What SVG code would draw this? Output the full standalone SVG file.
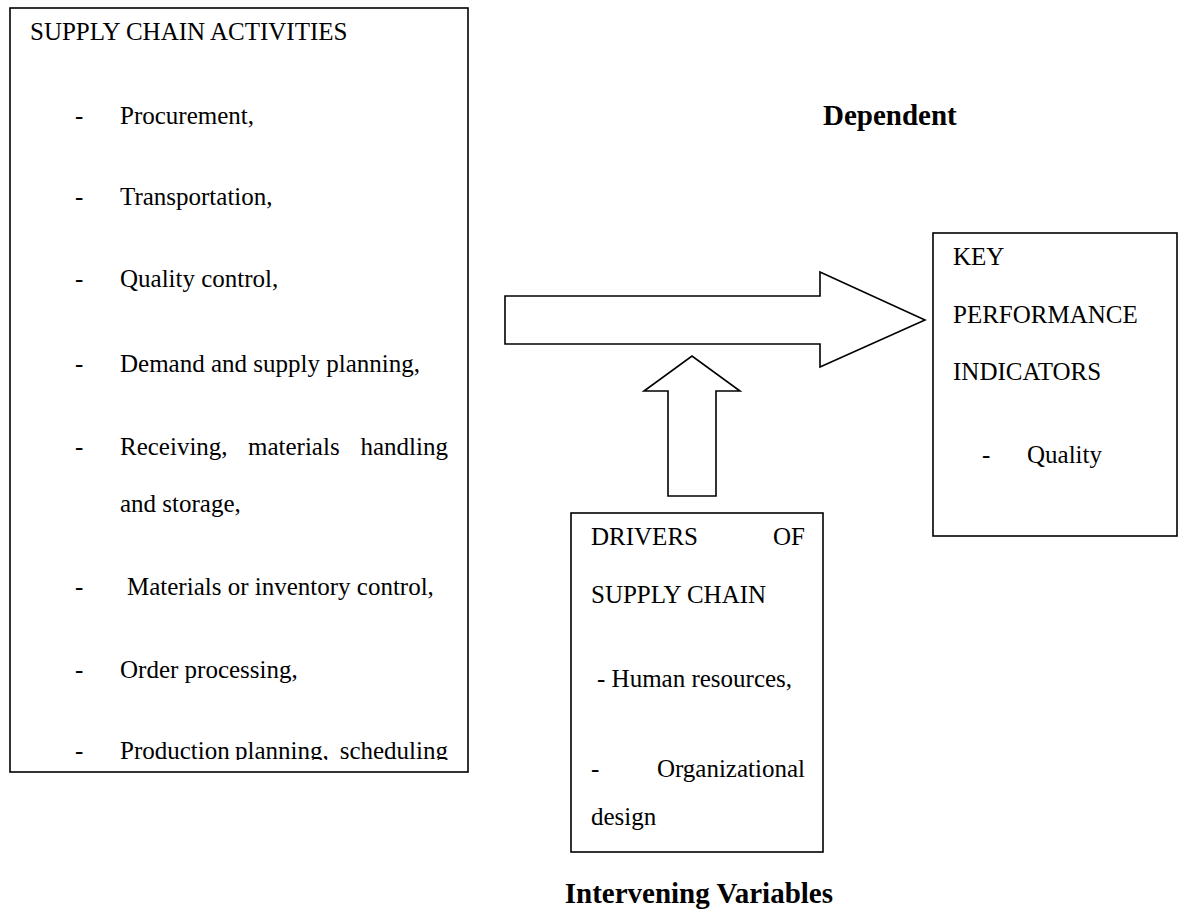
<svg xmlns="http://www.w3.org/2000/svg" width="1181" height="911" viewBox="0 0 1181 911">
<style>
.box{fill:#fff;stroke:#000;stroke-width:1.6}
.arr{fill:#fff;stroke:#000;stroke-width:1.6;stroke-linejoin:miter}
text{font-family:"Liberation Serif","Times New Roman",serif;font-size:25px;fill:#000}
.b{font-weight:bold;font-size:29px}
</style>
<defs>
<clipPath id="clipL"><rect x="10" y="8" width="458" height="752"/></clipPath>
</defs>
<rect width="1181" height="911" fill="#fff"/>
<g id="connectors">
<path class="arr" d="M505,296 L820,296 L820,272 L925,320 L820,367 L820,344 L505,344 Z"/>
<path class="arr" d="M668,496 L668,391 L644,391 L692,356 L740,391 L716,391 L716,496 Z"/>
</g>
<g id="activities">
<rect class="box" x="10" y="8" width="458" height="764"/>
<g clip-path="url(#clipL)">
<text x="30" y="40">SUPPLY CHAIN ACTIVITIES</text>
<text x="75" y="124">-</text><text x="120" y="124">Procurement,</text>
<text x="75" y="205">-</text><text x="120" y="205">Transportation,</text>
<text x="75" y="287">-</text><text x="120" y="287">Quality control,</text>
<text x="75" y="372">-</text><text x="120" y="372">Demand and supply planning,</text>
<text x="75" y="455">-</text><text x="120" y="455">Receiving,</text><text x="248" y="455">materials</text><text x="448" y="455" text-anchor="end">handling</text>
<text x="120" y="512">and storage,</text>
<text x="75" y="595">-</text><text x="127" y="595">Materials or inventory control,</text>
<text x="75" y="678">-</text><text x="120" y="678">Order processing,</text>
<text x="75" y="759">-</text><text x="120" y="759">Production</text><text x="235" y="759">planning,</text><text x="448" y="759" text-anchor="end">scheduling</text>
</g>
</g>
<g id="kpi">
<rect class="box" x="933" y="233" width="244" height="303"/>
<text x="953" y="265">KEY</text>
<text x="953" y="323">PERFORMANCE</text>
<text x="953" y="380">INDICATORS</text>
<text x="982" y="463">-</text><text x="1027" y="463">Quality</text>
</g>
<g id="drivers">
<rect class="box" x="571" y="513" width="252" height="339"/>
<text x="591" y="545">DRIVERS</text><text x="805" y="545" text-anchor="end">OF</text>
<text x="591" y="603">SUPPLY CHAIN</text>
<text x="597" y="687">- Human resources,</text>
<text x="591" y="777">-</text><text x="805" y="777" text-anchor="end">Organizational</text>
<text x="591" y="825">design</text>
</g>
<g id="labels">
<text class="b" x="823" y="125">Dependent</text>
<text class="b" x="833" y="903" text-anchor="end">Intervening Variables</text>
</g>
</svg>
